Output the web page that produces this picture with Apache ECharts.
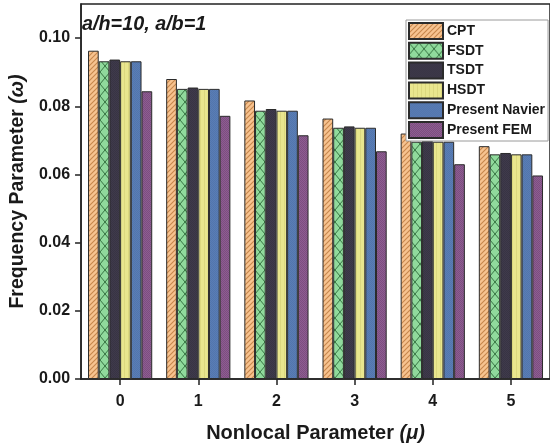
<!DOCTYPE html>
<html>
<head>
<meta charset="utf-8">
<script src="https://cdn.jsdelivr.net/npm/echarts@6/dist/echarts.min.js"></script>
<style>
  html, body { margin: 0; padding: 0; background: #fff; }
  #chart { width: 550px; height: 448px; }
</style>
</head>
<body>
<div id="chart"></div>
<script>
// Nonlocal parameter values on the horizontal axis
const categories = ['0', '1', '2', '3', '4', '5'];
const seriesNames = ['CPT', 'FSDT', 'TSDT', 'HSDT', 'Present Navier', 'Present FEM'];

// Frequency parameter per theory
const cpt     = [0.0963, 0.0880, 0.0817, 0.0764, 0.0720, 0.0683];
const fsdt    = [0.0932, 0.0851, 0.0787, 0.0737, 0.0696, 0.0659];
const tsdt    = [0.0937, 0.0855, 0.0792, 0.0741, 0.0699, 0.0663];
const hsdt    = [0.0932, 0.0851, 0.0787, 0.0737, 0.0696, 0.0659];
const navier  = [0.0932, 0.0851, 0.0787, 0.0737, 0.0696, 0.0659];
const fem     = [0.0844, 0.0772, 0.0715, 0.0668, 0.0630, 0.0597];

const yTicks = [0, 0.02, 0.04, 0.06, 0.08, 0.10];

// --- fill patterns ---------------------------------------------------------
function makeTile(w, h, draw) {
  const c = document.createElement('canvas');
  c.width = w; c.height = h;
  draw(c.getContext('2d'), w, h);
  return c;
}
const hatchTile = makeTile(5, 5, (g, w, h) => {
  g.fillStyle = '#f7c390'; g.fillRect(0, 0, w, h);
  g.strokeStyle = '#c7864c'; g.lineWidth = 1.1;
  g.beginPath();
  g.moveTo(-1, h + 1); g.lineTo(w + 1, -1);
  g.moveTo(-1, 1); g.lineTo(1, -1);
  g.moveTo(w - 1, h + 1); g.lineTo(w + 1, h - 1);
  g.stroke();
});
const crossTile = makeTile(10, 12, (g, w, h) => {
  g.fillStyle = '#90da9c'; g.fillRect(0, 0, w, h);
  g.strokeStyle = '#2f6a3a'; g.lineWidth = 0.9;
  g.beginPath();
  g.moveTo(0, 0); g.lineTo(w, h);
  g.moveTo(w, 0); g.lineTo(0, h);
  g.stroke();
});
const darkTile = makeTile(2, 2, (g) => {
  g.fillStyle = '#3f3a4b'; g.fillRect(0, 0, 2, 2);
  g.fillStyle = '#383444'; g.fillRect(0, 0, 1, 1); g.fillRect(1, 1, 1, 1);
});
const yellowTile = makeTile(4, 4, (g) => {
  g.fillStyle = '#e9e68e'; g.fillRect(0, 0, 4, 4);
  g.fillStyle = '#dcd87f'; g.fillRect(0, 0, 1, 4);
});
const blueTile = makeTile(2, 2, (g) => {
  g.fillStyle = '#5a7db5'; g.fillRect(0, 0, 2, 2);
  g.fillStyle = '#5276ad'; g.fillRect(0, 0, 1, 1); g.fillRect(1, 1, 1, 1);
});
const purpleTile = makeTile(2, 2, (g) => {
  g.fillStyle = '#8e5d91'; g.fillRect(0, 0, 2, 2);
  g.fillStyle = '#7c4e80'; g.fillRect(0, 0, 1, 1); g.fillRect(1, 1, 1, 1);
});
const fills = [hatchTile, crossTile, darkTile, yellowTile, blueTile, purpleTile];
const values = [cpt, fsdt, tsdt, hsdt, navier, fem];

const chart = echarts.init(document.getElementById('chart'));

const series = seriesNames.map((name, i) => ({
  name: name,
  type: 'bar',
  data: values[i],
  barWidth: 10.7,
  barGap: '0%',
  itemStyle: {
    color: { image: fills[i], repeat: 'repeat' },
    borderColor: '#2b2b2b',
    borderWidth: 1
  },
  emphasis: { disabled: true }
}));

const boldFont = 'Liberation Sans, Arial, sans-serif';

chart.setOption({
  animation: false,
  backgroundColor: '#ffffff',
  grid: {
    left: 75, right: -3, top: 4, bottom: 66.3,
    show: true, borderColor: '#222', borderWidth: 1.5, backgroundColor: 'transparent'
  },
  legend: {
    orient: 'vertical',
    left: 406, top: 20,
    padding: [2, 3, 2, 2],
    itemWidth: 34, itemHeight: 16, itemGap: 1.8,
    backgroundColor: '#fff',
    borderColor: '#9a9a9a', borderWidth: 1,
    icon: 'rect',
    selectedMode: false,
    textStyle: {
      fontFamily: boldFont, fontWeight: 'bold', fontSize: 14, color: '#1a1a1a',
      lineHeight: 16, height: 16, padding: [0, 0, 0, -1]
    },
    data: seriesNames
  },
  xAxis: {
    type: 'category',
    data: categories,
    boundaryGap: true,
    name: '{n|Nonlocal Parameter }{i|(μ)}',
    nameLocation: 'middle',
    nameGap: 44,
    nameTextStyle: {
      rich: {
        n: { fontFamily: boldFont, fontWeight: 'bold', fontSize: 20, color: '#1a1a1a' },
        i: { fontFamily: boldFont, fontWeight: 'bold', fontStyle: 'italic', fontSize: 20, color: '#1a1a1a' }
      }
    },
    axisLine: { lineStyle: { color: '#222', width: 1.5 } },
    axisTick: { show: true, alignWithLabel: true, length: 6, lineStyle: { color: '#222', width: 1.5 } },
    axisLabel: { margin: 15, fontFamily: boldFont, fontWeight: 'bold', fontSize: 16, color: '#1a1a1a' },
    splitLine: { show: false }
  },
  yAxis: {
    type: 'value',
    min: 0, max: 0.11, interval: 0.02,
    name: '{n|Frequency Parameter }{i|(ω)}',
    nameLocation: 'middle',
    nameGap: 45,
    nameRotate: 90,
    nameTextStyle: {
      rich: {
        n: { fontFamily: boldFont, fontWeight: 'bold', fontSize: 19.5, color: '#1a1a1a' },
        i: { fontFamily: boldFont, fontWeight: 'bold', fontStyle: 'italic', fontSize: 19.5, color: '#1a1a1a' }
      }
    },
    axisLine: { show: true, lineStyle: { color: '#222', width: 1.5 } },
    axisTick: { show: true, length: 6, lineStyle: { color: '#222', width: 1.5 } },
    axisLabel: {
      margin: 11,
      fontFamily: boldFont, fontWeight: 'bold', fontSize: 16, color: '#1a1a1a',
      showMaxLabel: false,
      formatter: v => (yTicks.some(t => Math.abs(t - v) < 1e-9) ? v.toFixed(2) : '')
    },
    splitLine: { show: false }
  },
  graphic: [{
    type: 'text',
    left: 82, top: 15,
    style: {
      text: 'a/h=10, a/b=1',
      fontFamily: boldFont, fontWeight: 'bold', fontStyle: 'italic', fontSize: 19.8,
      fill: '#1a1a1a'
    }
  }],
  series: series
});
</script>
</body>
</html>
